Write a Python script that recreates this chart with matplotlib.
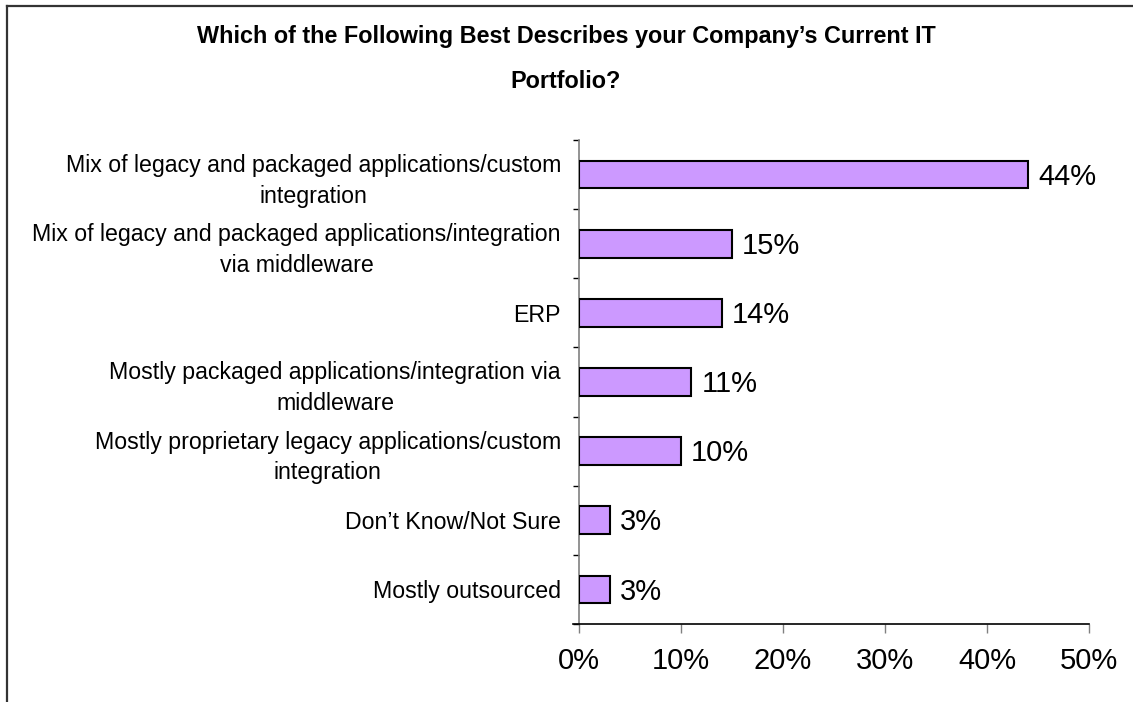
import matplotlib
matplotlib.use("Agg")
import matplotlib.pyplot as plt
from matplotlib.lines import Line2D
from matplotlib.transforms import ScaledTranslation
import numpy as np

categories = [
    "Mix of legacy and packaged applications/custom\nintegration",
    "Mix of legacy and packaged applications/integration\nvia middleware",
    "ERP",
    "Mostly packaged applications/integration via\nmiddleware",
    "Mostly proprietary legacy applications/custom\nintegration",
    "Don\u2019t Know/Not Sure",
    "Mostly outsourced",
]
values = [44, 15, 14, 11, 10, 3, 3]
xticks = [0, 10, 20, 30, 40, 50]
xticklabels = ["0%", "10%", "20%", "30%", "40%", "50%"]
title_lines = ["Which of the Following Best Describes your Company\u2019s Current IT", "Portfolio?"]

plt.rcParams['font.family'] = ['Liberation Sans', 'DejaVu Sans']

W, H = 1133, 702
fig = plt.figure(figsize=(W / 100, H / 100), dpi=100)
ax = fig.add_axes([579 / W, 1 - 624 / H, (1089 - 579) / W, (624 - 140) / H])

n = len(categories)
ypos = np.arange(n)
ax.barh(ypos, values, height=0.4, color="#CC99FF", edgecolor="black", linewidth=1.5, zorder=3)
for y, v in zip(ypos, values):
    ax.text(v + 1.0, y + 0.03, f"{v}%", va="center", ha="left", fontsize=21, zorder=4)

ax.set_ylim(n - 0.5, -0.5)
ax.set_xlim(0, 50)
ax.set_yticks(ypos)
ax.set_yticklabels(categories, fontsize=16.7, linespacing=1.42)
shift = ScaledTranslation(0, 4 / 100, fig.dpi_scale_trans)
for t in ax.get_yticklabels():
    t.set_multialignment("center")
    if "\n" in t.get_text():
        t.set_transform(t.get_transform() + shift)
ax.set_yticks(np.arange(n + 1) - 0.5, minor=True)
ax.tick_params(axis="y", which="major", length=0, pad=13)
ax.tick_params(axis="y", which="minor", length=4.5, width=1, color="black")

ax.set_xticks(xticks)
ax.set_xticklabels(xticklabels, fontsize=21)
ax.tick_params(axis="x", which="major", length=6.5, width=1, color="gray", pad=10)

for s in ["top", "right"]:
    ax.spines[s].set_visible(False)
ax.spines["left"].set_color("gray")
ax.spines["left"].set_linewidth(1.2)
ax.spines["bottom"].set_color("black")
ax.spines["bottom"].set_linewidth(1.2)
ax.spines["bottom"].set_bounds(-0.6, 50)

fig.text(566 / W, 1 - 36 / H, title_lines[0], ha="center", va="center", fontsize=16.8, fontweight="bold")
fig.text(566 / W, 1 - 81 / H, title_lines[1], ha="center", va="center", fontsize=16.8, fontweight="bold")

# frame border (top and left visible)
fig.add_artist(Line2D([7 / W, 7 / W], [0, 1 - 6 / H], color="#333333", linewidth=1.6, transform=fig.transFigure))
fig.add_artist(Line2D([7 / W, 1], [1 - 6 / H, 1 - 6 / H], color="#333333", linewidth=1.6, transform=fig.transFigure))

fig.savefig("out.png", dpi=100)
